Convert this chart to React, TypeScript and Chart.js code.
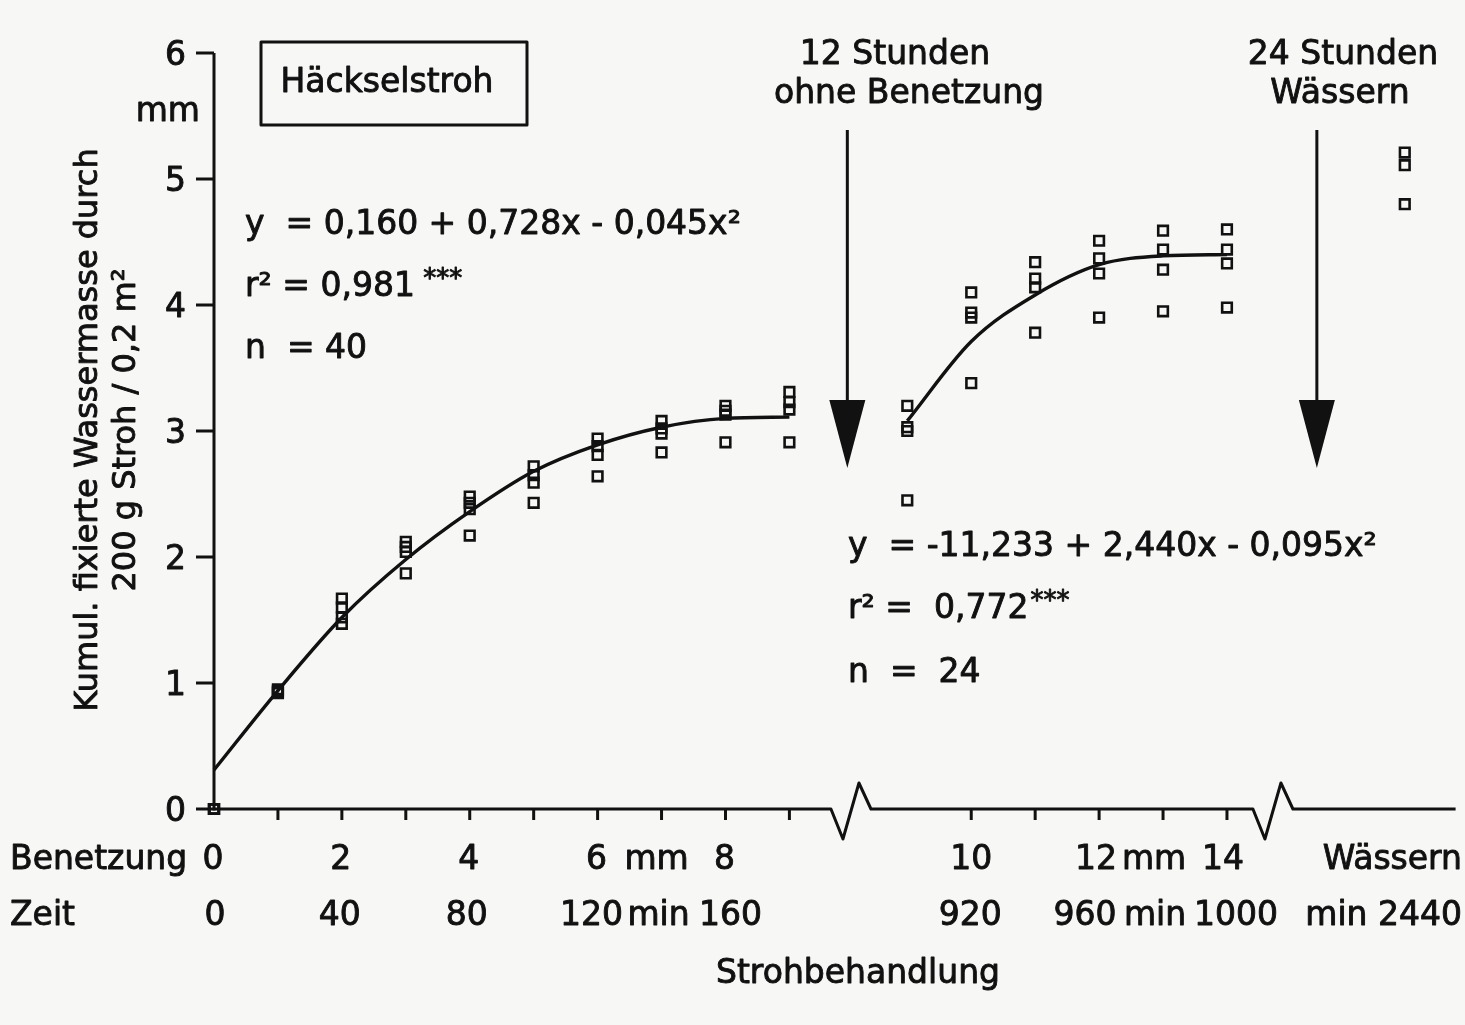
import React, { useEffect, useRef } from "react";
import { Chart, registerables } from "chart.js";

Chart.register(...registerables);

// ---------- data ----------
// Segment 1: Benetzung 0–9 mm (0–160 min)
const benetzungSeg1 = [0, 1, 2, 3, 4, 5, 6, 7, 8, 9];
const wasserSeg1 = [
  [0.0, 0.0, 0.0, 0.0],
  [0.95, 0.93, 0.92, 0.94],
  [1.67, 1.6, 1.52, 1.47],
  [2.12, 2.08, 2.04, 1.87],
  [2.48, 2.43, 2.38, 2.17],
  [2.72, 2.65, 2.59, 2.43],
  [2.94, 2.88, 2.81, 2.64],
  [3.08, 3.02, 2.98, 2.83],
  [3.2, 3.16, 3.13, 2.91],
  [3.31, 3.23, 3.17, 2.91],
];
const fitSeg1 = [0.31, 0.94, 1.52, 1.98, 2.36, 2.68, 2.89, 3.03, 3.1, 3.11];

// Segment 2: after 12 h without wetting, Benetzung 9–14 mm
const benetzungSeg2 = [9, 10, 11, 12, 13, 14];
const wasserSeg2 = [
  [3.2, 3.03, 3.0, 2.45],
  [4.1, 3.94, 3.9, 3.38],
  [4.34, 4.21, 4.14, 3.78],
  [4.51, 4.37, 4.25, 3.9],
  [4.59, 4.44, 4.28, 3.95],
  [4.6, 4.44, 4.33, 3.98],
];
const fitSeg2 = [3.08, 3.71, 4.08, 4.32, 4.39, 4.4];

// After 24 h Wässern
const waessernValues = [5.21, 5.11, 4.8];

// tick labels
const yTickValues = [0, 1, 2, 3, 4, 5, 6];
const benetzungTicks1 = [0, 2, 4, 6, 8];
const zeitTicks1 = ["0", "40", "80", "120", "160"];
const benetzungTicks2 = [10, 12, 14];
const zeitTicks2 = ["920", "960", "1000"];

const eq1 = ["y  = 0,160 + 0,728x - 0,045x²", "r² = 0,981", "n  = 40"];
const eq2 = ["y  = -11,233 + 2,440x - 0,095x²", "r² =  0,772", "n  =  24"];

// ---------- layout (axis units) ----------
const SEG2_OFFSET = 1.844; // shift of the second segment on the drawn axis
const WAESSERN_POS = 18.625;
const ARROW1_POS = 9.906;
const ARROW2_POS = 17.25;
const BREAK1_POS = 9.9;
const BREAK2_POS = 16.5;
const X_MAX = 19.42;

const FONT = '"DejaVu Sans", "Liberation Sans", sans-serif';
const INK = "#111";

function txt(
  ctx: CanvasRenderingContext2D,
  s: string,
  x: number,
  y: number,
  size: number,
  align: CanvasTextAlign = "left"
) {
  ctx.font = `${size}px ${FONT}`;
  ctx.textAlign = align;
  ctx.textBaseline = "alphabetic";
  ctx.fillStyle = INK;
  ctx.strokeStyle = INK;
  ctx.lineWidth = 0.9;
  ctx.lineJoin = "round";
  ctx.fillText(s, x, y);
  ctx.strokeText(s, x, y);
}

const figurePlugin = {
  id: "figure",
  beforeDraw(chart: any) {
    const ctx = chart.ctx as CanvasRenderingContext2D;
    ctx.save();
    ctx.fillStyle = "#f7f7f5";
    ctx.fillRect(0, 0, chart.width, chart.height);
    ctx.restore();
  },
  beforeDatasetsDraw(chart: any) {
    const ctx = chart.ctx as CanvasRenderingContext2D;
    const xs = chart.scales.x;
    const ys = chart.scales.y;
    const X0 = xs.getPixelForValue(0);
    const Y0 = ys.getPixelForValue(0);
    ctx.save();
    ctx.lineJoin = "miter";

    const stroke = (w: number) => {
      ctx.strokeStyle = INK;
      ctx.lineWidth = w;
    };

    // y axis
    stroke(3);
    ctx.beginPath();
    ctx.moveTo(X0, ys.getPixelForValue(6));
    ctx.lineTo(X0, Y0 + 1.5);
    ctx.stroke();
    yTickValues.forEach((t) => {
      const py = ys.getPixelForValue(t);
      stroke(3);
      ctx.beginPath();
      ctx.moveTo(X0 - 18, py);
      ctx.lineTo(X0, py);
      ctx.stroke();
      txt(ctx, String(t), X0 - 28, py + 12, 33, "right");
    });
    txt(ctx, "mm", X0 - 14, 121, 33, "right");

    // x axis with break marks
    const b1 = xs.getPixelForValue(BREAK1_POS);
    const b2 = xs.getPixelForValue(BREAK2_POS);
    stroke(3);
    ctx.beginPath();
    ctx.moveTo(X0, Y0);
    [b1, b2].forEach((b) => {
      ctx.lineTo(b - 16, Y0);
      ctx.lineTo(b - 4, Y0 + 30);
      ctx.lineTo(b + 12, Y0 - 26);
      ctx.lineTo(b + 24, Y0);
    });
    ctx.lineTo(xs.getPixelForValue(X_MAX), Y0);
    ctx.stroke();

    // x ticks
    const tickPos: number[] = [];
    benetzungSeg1.forEach((v) => v > 0 && tickPos.push(v));
    benetzungSeg2.forEach((v) => v > 9 && tickPos.push(v + SEG2_OFFSET));
    tickPos.forEach((p) => {
      const px = xs.getPixelForValue(p);
      ctx.beginPath();
      ctx.moveTo(px, Y0);
      ctx.lineTo(px, Y0 + 11);
      ctx.stroke();
    });

    // arrows
    ctx.fillStyle = INK;
    [ARROW1_POS, ARROW2_POS].forEach((p) => {
      const px = xs.getPixelForValue(p);
      stroke(3);
      ctx.beginPath();
      ctx.moveTo(px, 130);
      ctx.lineTo(px, 402);
      ctx.stroke();
      ctx.beginPath();
      ctx.moveTo(px - 18, 400);
      ctx.lineTo(px + 18, 400);
      ctx.lineTo(px, 468);
      ctx.closePath();
      ctx.fill();
    });

    // label box
    stroke(3);
    ctx.strokeRect(261, 42, 266, 83);
    ctx.restore();
  },
  afterDraw(chart: any) {
    const ctx = chart.ctx as CanvasRenderingContext2D;
    const xs = chart.scales.x;
    ctx.save();

    txt(ctx, "Häckselstroh", 387, 92, 33, "center");

    // arrow captions
    txt(ctx, "12 Stunden", 895, 64, 33, "center");
    txt(ctx, "ohne Benetzung", 909, 103, 33, "center");
    txt(ctx, "24 Stunden", 1343, 64, 33, "center");
    txt(ctx, "Wässern", 1340, 103, 33, "center");

    // equations
    const eqBase1 = [234, 296, 358];
    eq1.forEach((s, i) => txt(ctx, s, 245, eqBase1[i], 33));
    ctx.font = `33px ${FONT}`;
    const w1 = ctx.measureText(eq1[1]).width;
    txt(ctx, " ***", 245 + w1, eqBase1[1] - 9, 26);

    const eqBase2 = [556, 618, 682];
    eq2.forEach((s, i) => txt(ctx, s, 848, eqBase2[i], 33));
    ctx.font = `33px ${FONT}`;
    const w2 = ctx.measureText(eq2[1]).width;
    txt(ctx, "***", 848 + w2 + 2, eqBase2[1] - 9, 26);

    // bottom tick rows
    const row1 = 869;
    const row2 = 925;
    txt(ctx, "Benetzung", 10, row1, 33);
    txt(ctx, "Zeit", 10, row2, 33);
    const zeitDx1 = [1, -2, -3, -6, 5];
    benetzungTicks1.forEach((v, i) => {
      txt(ctx, String(v), xs.getPixelForValue(v) - 1, row1, 33, "center");
      txt(ctx, zeitTicks1[i], xs.getPixelForValue(v) + zeitDx1[i], row2, 33, "center");
    });
    txt(ctx, "mm", xs.getPixelForValue(7) - 5, row1, 33, "center");
    txt(ctx, "min", xs.getPixelForValue(7) - 3, row2, 33, "center");
    const zeitDx2 = [-1, -14, 9];
    const benDx2 = [0, -3, -4];
    benetzungTicks2.forEach((v, i) => {
      const px = xs.getPixelForValue(v + SEG2_OFFSET);
      txt(ctx, String(v), px + benDx2[i], row1, 33, "center");
      txt(ctx, zeitTicks2[i], px + zeitDx2[i], row2, 33, "center");
    });
    txt(ctx, "mm", xs.getPixelForValue(13 + SEG2_OFFSET) - 9, row1, 33, "center");
    txt(ctx, "min", xs.getPixelForValue(13 + SEG2_OFFSET) - 8, row2, 33, "center");
    txt(ctx, "Wässern", 1462, row1, 33, "right");
    txt(ctx, "min 2440", 1462, row2, 33, "right");

    txt(ctx, "Strohbehandlung", 858, 983, 33, "center");

    // y axis title (rotated)
    ctx.save();
    ctx.translate(97, 430);
    ctx.rotate(-Math.PI / 2);
    txt(ctx, "Kumul. fixierte Wassermasse durch", 0, 0, 32, "center");
    ctx.restore();
    ctx.save();
    ctx.translate(135, 430);
    ctx.rotate(-Math.PI / 2);
    txt(ctx, "200 g Stroh / 0,2 m²", 0, 0, 32, "center");
    ctx.restore();

    ctx.restore();
  },
};

function scatterPoints(xsArr: number[], vals: number[][], offset: number) {
  const pts: { x: number; y: number }[] = [];
  xsArr.forEach((x, i) => vals[i].forEach((y) => pts.push({ x: x + offset, y })));
  return pts;
}

export default function App() {
  const ref = useRef<HTMLCanvasElement | null>(null);

  useEffect(() => {
    if (!ref.current) return;
    const pointStyle = {
      showLine: false,
      pointStyle: "rect" as const,
      pointRadius: 6.8,
      pointBorderWidth: 2.6,
      pointBorderColor: INK,
      pointBackgroundColor: "rgba(0,0,0,0)",
      borderColor: INK,
      clip: false as any,
    };
    const lineStyle = {
      showLine: true,
      pointRadius: 0,
      borderColor: INK,
      borderWidth: 3.4,
      cubicInterpolationMode: "monotone" as const,
      clip: false as any,
    };
    const chart = new Chart(ref.current, {
      type: "scatter",
      data: {
        datasets: [
          {
            label: "Häckselstroh 0–9 mm",
            data: scatterPoints(benetzungSeg1, wasserSeg1, 0),
            ...pointStyle,
          },
          {
            label: "nach 12 Stunden ohne Benetzung",
            data: scatterPoints(benetzungSeg2, wasserSeg2, SEG2_OFFSET),
            ...pointStyle,
          },
          {
            label: "nach 24 Stunden Wässern",
            data: waessernValues.map((y) => ({ x: WAESSERN_POS, y })),
            ...pointStyle,
          },
          {
            label: "Regression 1",
            data: benetzungSeg1.map((x, i) => ({ x, y: fitSeg1[i] })),
            ...lineStyle,
          },
          {
            label: "Regression 2",
            data: benetzungSeg2.map((x, i) => ({ x: x + SEG2_OFFSET, y: fitSeg2[i] })),
            ...lineStyle,
          },
        ],
      },
      options: {
        animation: false,
        responsive: false,
        devicePixelRatio: 1,
        layout: { padding: { left: 214, top: 53, right: 8, bottom: 216 } },
        plugins: { legend: { display: false }, tooltip: { enabled: false } },
        scales: {
          x: { type: "linear", min: 0, max: X_MAX, display: false },
          y: { type: "linear", min: 0, max: 6, display: false },
        },
      },
      plugins: [figurePlugin],
    });
    return () => chart.destroy();
  }, []);

  return (
    <div style={{ position: "absolute", left: 0, top: 0, width: 1465, height: 1025 }}>
      <canvas ref={ref} width={1465} height={1025} />
    </div>
  );
}
